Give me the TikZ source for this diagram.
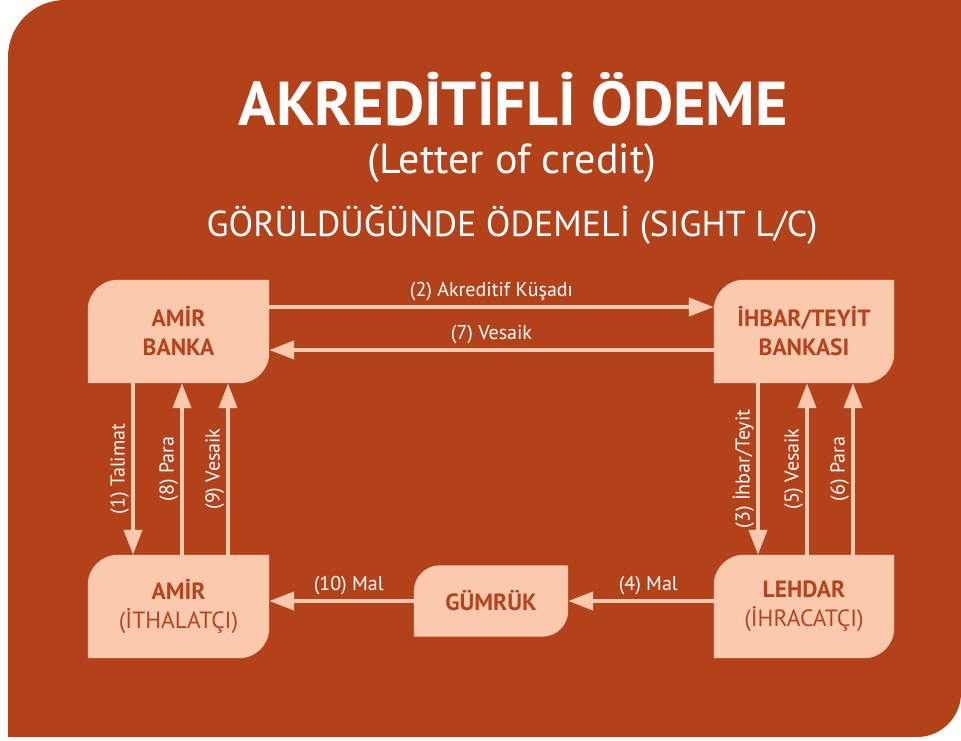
\documentclass[tikz,border=0pt]{standalone}
\usepackage{fontspec}
\setmainfont{PT Sans}
\usepackage{xcolor}
\usepackage{tikz}
\usetikzlibrary{arrows.meta,positioning,calc,backgrounds}
\definecolor{rust}{HTML}{B3421B}
\definecolor{peach}{HTML}{FBCAAE}
\definecolor{ink}{HTML}{B4441D}

\begin{document}
\begin{tikzpicture}[x=1pt,y=-1pt,
  blk/.style={minimum width=181pt,minimum height=103pt,inner sep=0pt,align=center,text=ink,font=\fontsize{23.5}{29}\selectfont},
  flow/.style={draw=peach,line width=4pt,-{Triangle[length=25pt,width=18pt]}},
  lbl/.style={text=white,font=\fontsize{20}{22}\selectfont,inner sep=2pt},
  vlbl/.style={lbl,midway,rotate=90,anchor=south}]
\useasboundingbox (0,0) rectangle (961,741);
\node[text=white,anchor=base,font=\fontsize{62}{64}\selectfont\bfseries] (tt) at (513,126) {AKREDİTİFLİ ÖDEME};
\node[text=white,anchor=base,font=\fontsize{42}{44}\selectfont] (st) at (512,173) {(Letter of credit)};
\node[text=white,anchor=base,font=\fontsize{36}{38}\selectfont] (sg) at (512,236) {GÖRÜLDÜĞÜNDE ÖDEMELİ (SIGHT L/C)};
\node[blk,font=\fontsize{23.5}{29}\selectfont\bfseries] (ab) at (178.5,331.5) {AMİR\\BANKA};
\node[blk,minimum width=180pt,font=\fontsize{23.5}{29}\selectfont\bfseries] (it) at (804,331.5) {İHBAR/TEYİT\\BANKASI};
\node[blk] (ai) at (178.5,606.5) {\textbf{AMİR}\\(İTHALATÇI)};
\node[blk,minimum width=180pt] (le) at (804,606.5) {\textbf{LEHDAR}\\(İHRACATÇI)};
\node[blk,minimum width=154pt,minimum height=71pt,font=\fontsize{23.5}{29}\selectfont\bfseries] (gu) at (491,601) {GÜMRÜK};
\draw[flow] ([yshift=24.5pt]ab.east) -- node[lbl,above=2pt]{(2) Akreditif Küşadı} ([yshift=24.5pt]it.west);
\draw[flow] ([yshift=-18.5pt]it.west) -- node[lbl,above=2pt]{(7) Vesaik} ([yshift=-18.5pt]ab.east);
\draw[flow] ([xshift=-45.5pt]ab.south) -- node[vlbl]{(1) Talimat} ([xshift=-45.5pt]ai.north);
\draw[flow] ([xshift=3.5pt]ai.north) -- node[vlbl]{(8) Para} ([xshift=3.5pt]ab.south);
\draw[flow] ([xshift=49.5pt]ai.north) -- node[vlbl]{(9) Vesaik} ([xshift=49.5pt]ab.south);
\draw[flow] ([xshift=-46pt]it.south) -- node[vlbl]{(3) İhbar/Teyit} ([xshift=-46pt]le.north);
\draw[flow] ([xshift=3pt]le.north) -- node[vlbl]{(5) Vesaik} ([xshift=3pt]it.south);
\draw[flow] ([xshift=49pt]le.north) -- node[vlbl]{(6) Para} ([xshift=49pt]it.south);
\draw[flow] ([yshift=5.5pt]le.west) -- node[lbl,above=2pt,pos=0.45]{(4) Mal} (gu.east);
\draw[flow] (gu.west) -- node[lbl,above=2pt,pos=0.45]{(10) Mal} ([yshift=5.5pt]ai.east);
\begin{scope}[on background layer]
\fill[white] (0,0) rectangle (961,741);
\fill[rust] (961,0) -- (65,0) arc[start angle=90,end angle=180,radius=57pt] -- (8,737) -- (917,737) arc[start angle=270,end angle=360,radius=44pt] -- cycle;
\foreach \n/\r in {ab/30,it/30,ai/30,le/30,gu/26}
  \fill[peach] (\n.north east) -- ([xshift=\r pt]\n.north west) arc[start angle=90,end angle=180,radius=\r pt] -- (\n.south west) -- ([xshift=-\r pt]\n.south east) arc[start angle=270,end angle=360,radius=\r pt] -- cycle;
\end{scope}
\end{tikzpicture}
\end{document}
